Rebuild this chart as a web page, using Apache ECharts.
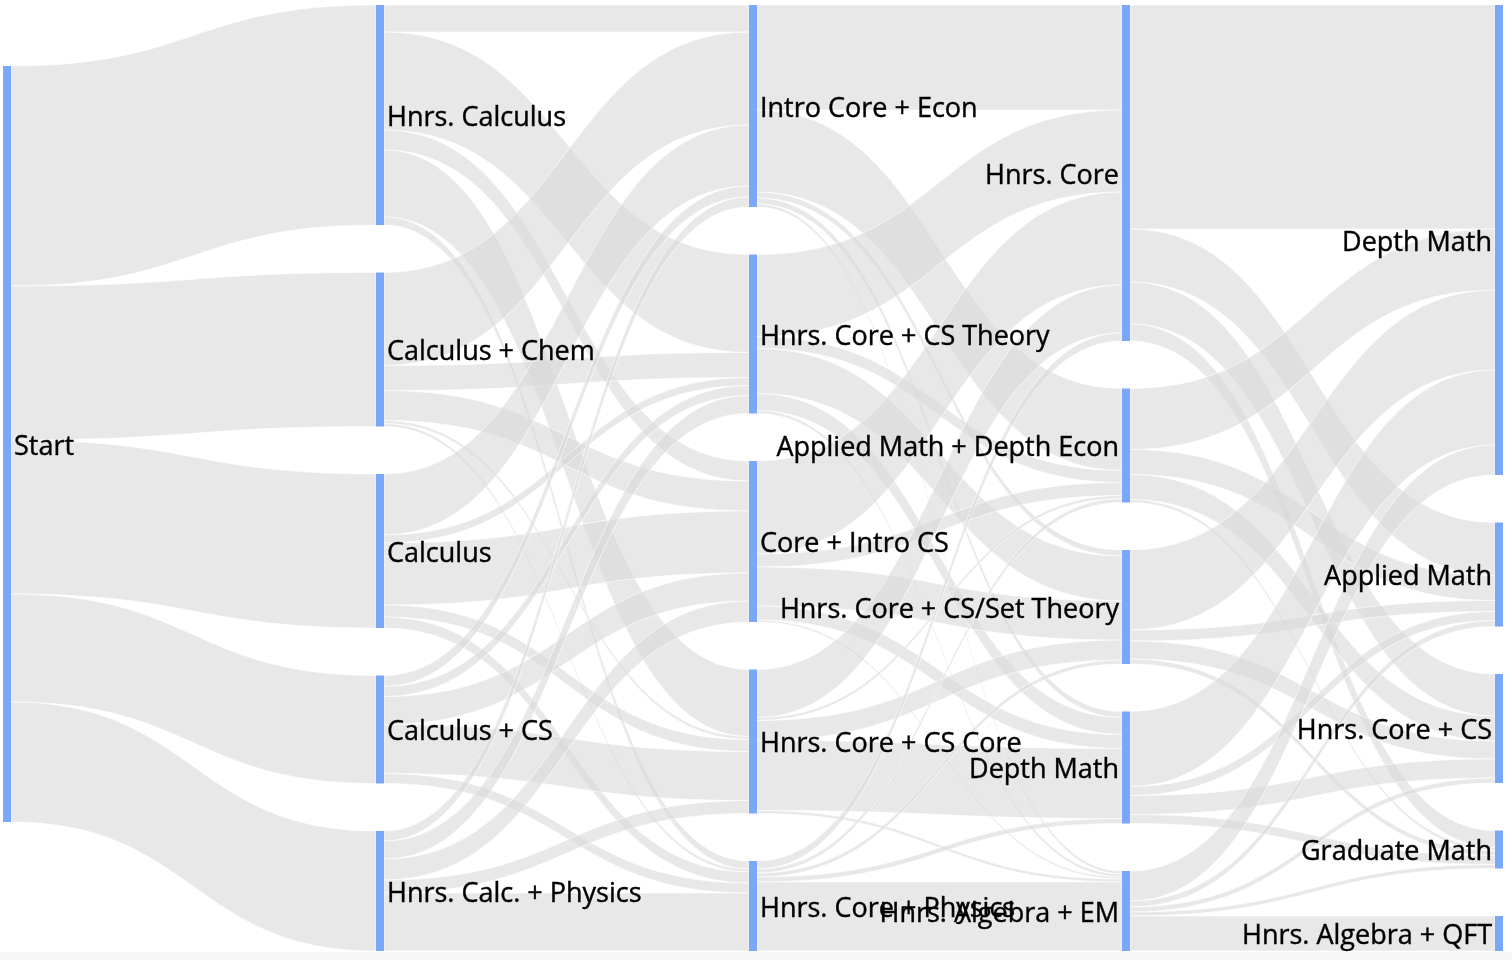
<!DOCTYPE html>
<html>
<head>
<meta charset="utf-8">
<script src="https://cdn.jsdelivr.net/npm/echarts@6/dist/echarts.min.js"></script>
<style>
html,body{margin:0;padding:0;background:#fff;}
#chart{width:1512px;height:960px;}
</style>
</head>
<body>
<div id="chart"></div>
<script>
// Node labels per column (stage)
const col0 = ['Start'];
const col1 = ['Hnrs. Calculus', 'Calculus + Chem', 'Calculus', 'Calculus + CS', 'Hnrs. Calc. + Physics'];
const col2 = ['Intro Core + Econ', 'Hnrs. Core + CS Theory', 'Core + Intro CS', 'Hnrs. Core + CS Core', 'Hnrs. Core + Physics'];
const col3 = ['Hnrs. Core', 'Applied Math + Depth Econ', 'Hnrs. Core + CS/Set Theory', 'Depth Math', 'Hnrs. Algebra + EM'];
const col4 = ['Depth Math', 'Applied Math', 'Hnrs. Core + CS', 'Graduate Math', 'Hnrs. Algebra + QFT'];

// Flows: Start -> col1
const flowsStart = [220, 154, 154, 108, 120];
// flows12[i][j]: col1[i] -> col2[j]
const flows12 = [
  [27, 98, 20, 67, 8],
  [93, 25, 30, 3, 3],
  [61, 8, 62, 12, 11],
  [11, 10, 28, 49, 10],
  [10, 18, 21, 13, 58]
];
// flows23[i][j]: col2[i] -> col3[j]
const flows23 = [
  [105, 82, 6, 6, 3],
  [82, 12, 45, 17, 3],
  [93, 13, 39, 14, 2],
  [48, 3, 20, 70, 3],
  [8, 4, 4, 5, 69]
];
// flows34[i][j]: col3[i] -> col4[j]
const flows34 = [
  [224, 53, 42, 17, 0],
  [61, 25, 25, 3, 0],
  [80, 11, 18, 5, 0],
  [75, 9, 19, 9, 0],
  [30, 6, 5, 4, 35]
];

const columns = [col0, col1, col2, col3, col4];
const idOf = (d, label) => d + '|' + label;

const nodes = [];
columns.forEach((col, d) => {
  col.forEach(label => {
    nodes.push({
      name: idOf(d, label),
      depth: d,
      label: { position: d >= 3 ? 'left' : 'right' }
    });
  });
});
// Start node sits lower in the reference layout
nodes[0].localY = 61 / 946;

const links = [];
flowsStart.forEach((v, j) => {
  if (v > 0) links.push({ source: idOf(0, col0[0]), target: idOf(1, col1[j]), value: v });
});
function addFlows(matrix, from, fromD, to, toD) {
  matrix.forEach((row, i) => row.forEach((v, j) => {
    if (v > 0) links.push({ source: idOf(fromD, from[i]), target: idOf(toD, to[j]), value: v });
  }));
}
addFlows(flows12, col1, 1, col2, 2);
addFlows(flows23, col2, 2, col3, 3);
addFlows(flows34, col3, 3, col4, 4);

const chart = echarts.init(document.getElementById('chart'), null, { renderer: 'canvas' });
chart.setOption({
  backgroundColor: '#ffffff',
  animation: false,
  graphic: [{
    type: 'rect', left: 0, top: 952, z: -10,
    shape: { width: 1512, height: 8 },
    style: { fill: '#f7f7f7' }
  }],
  series: [{
    type: 'sankey',
    left: 3, top: 5, width: 1500, height: 946,
    nodeWidth: 8,
    nodeGap: 47.5,
    layoutIterations: 0,
    draggable: false,
    emphasis: { disabled: true },
    data: nodes,
    links: links,
    itemStyle: { color: '#7aa7f7', borderWidth: 0 },
    lineStyle: { color: '#d8d8d8', opacity: 0.6, curveness: 0.5, borderColor: '#ffffff', borderWidth: 1 },
    label: {
      show: true,
      color: '#000',
      fontFamily: 'Open Sans',
      fontSize: 27,
      distance: 3,
      offset: [0, 3],
      textBorderColor: '#000',
      textBorderWidth: 0.4,
      formatter: p => p.name.split('|')[1]
    }
  }]
});
</script>
</body>
</html>
